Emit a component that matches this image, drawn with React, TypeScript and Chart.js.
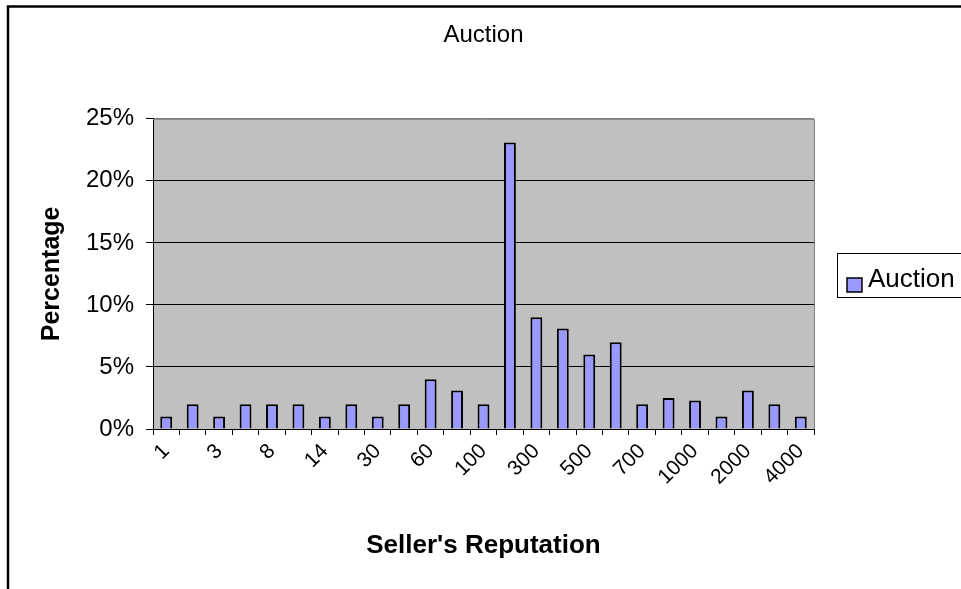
import React, { useEffect, useRef } from "react";
import { Chart, registerables } from "chart.js";

Chart.register(...registerables);

const FONT = "'Liberation Sans', Arial, Helvetica, sans-serif";

const chartTitle = "Auction";
const seriesName = "Auction";
const xAxisTitle = "Seller's Reputation";
const yAxisTitle = "Percentage";

// Labels shown under every other category
const tickLabels = ["1", "3", "8", "14", "30", "60", "100", "300", "500", "700", "1000", "2000", "4000"];

// Percentage of auctions per seller reputation bucket (25 buckets)
const auctionPct = [1, 2, 1, 2, 2, 2, 1, 2, 1, 2, 4, 3.1, 2, 23.1, 9, 8.1, 6, 7, 2, 2.5, 2.3, 1, 3.1, 2, 1];

const categories = auctionPct.map((_, i) => (i % 2 === 0 ? tickLabels[i / 2] : ""));

const yTicks = [0, 5, 10, 15, 20, 25];

const BAR_FILL = "#9999FF";
const PLOT_BG = "#C0C0C0";

const backgroundPlugin = {
  id: "plotBackground",
  beforeDraw(chart: any) {
    const { ctx, chartArea } = chart;
    ctx.save();
    ctx.fillStyle = "#FFFFFF";
    ctx.fillRect(0, 0, chart.width, chart.height);
    ctx.fillStyle = PLOT_BG;
    ctx.fillRect(chartArea.left, chartArea.top, chartArea.right - chartArea.left, chartArea.bottom - chartArea.top);
    ctx.restore();
  },
  beforeDatasetsDraw(chart: any) {
    const { ctx, chartArea } = chart;
    ctx.save();
    ctx.strokeStyle = "#808080";
    ctx.lineWidth = 1;
    ctx.beginPath();
    ctx.moveTo(chartArea.left, chartArea.top + 0.5);
    ctx.lineTo(chartArea.right + 0.5, chartArea.top + 0.5);
    ctx.lineTo(chartArea.right + 0.5, chartArea.bottom);
    ctx.stroke();
    ctx.restore();
  },
};

const framePlugin = {
  id: "outerFrame",
  afterDraw(chart: any) {
    const { ctx } = chart;
    ctx.save();
    ctx.strokeStyle = "#000000";
    ctx.lineWidth = 2.5;
    ctx.beginPath();
    ctx.moveTo(8, chart.height + 5);
    ctx.lineTo(8, 6.5);
    ctx.lineTo(chart.width + 5, 6.5);
    ctx.stroke();
    ctx.restore();
  },
};

const legendPlugin = {
  id: "sideLegend",
  afterDraw(chart: any) {
    const { ctx } = chart;
    const ds = chart.data.datasets[0];
    const x = 837;
    const y = 253;
    const h = 44;
    ctx.save();
    ctx.fillStyle = "#FFFFFF";
    ctx.fillRect(x, y, 200, h);
    ctx.strokeStyle = "#000000";
    ctx.lineWidth = 1;
    ctx.strokeRect(x + 0.5, y + 0.5, 200, h);
    ctx.fillStyle = ds.backgroundColor;
    ctx.fillRect(x + 10, y + 25, 15, 14);
    ctx.strokeStyle = "#000000";
    ctx.lineWidth = 1.5;
    ctx.strokeRect(x + 10, y + 25, 15, 14);
    ctx.fillStyle = "#000000";
    ctx.font = `26px ${FONT}`;
    ctx.textBaseline = "alphabetic";
    ctx.textAlign = "left";
    ctx.fillText(ds.label, x + 31, y + 34);
    ctx.restore();
  },
};

export default function App() {
  const canvasRef = useRef<HTMLCanvasElement | null>(null);

  useEffect(() => {
    const canvas = canvasRef.current;
    if (!canvas) return;
    const chart = new Chart(canvas, {
      type: "bar",
      data: {
        labels: categories,
        datasets: [
          {
            label: seriesName,
            data: auctionPct,
            backgroundColor: BAR_FILL,
            borderColor: "#000000",
            borderWidth: 2,
            barPercentage: 0.45,
            categoryPercentage: 1,
          },
        ],
      },
      options: {
        animation: false,
        responsive: false,
        maintainAspectRatio: false,
        devicePixelRatio: 1,
        layout: { padding: { left: 6, top: 6, right: 147, bottom: 0 } },
        plugins: {
          legend: { display: false },
          tooltip: { enabled: false },
          title: {
            display: true,
            text: chartTitle,
            fullSize: false,
            color: "#000000",
            font: { family: FONT, size: 24, weight: "normal" },
            padding: { top: 15, bottom: 69 },
          },
        },
        scales: {
          x: {
            offset: true,
            grid: {
              offset: true,
              drawOnChartArea: false,
              drawTicks: true,
              tickLength: 6,
              tickColor: "#000000",
              tickWidth: 1,
            },
            border: { display: true, color: "#000000", width: 1 },
            ticks: {
              autoSkip: false,
              minRotation: 45,
              maxRotation: 45,
              color: "#000000",
              font: { family: FONT, size: 21 },
              padding: 4,
            },
            title: {
              display: true,
              text: xAxisTitle,
              color: "#000000",
              font: { family: FONT, size: 26, weight: "bold" },
              padding: { top: 0, bottom: 28 },
            },
            afterFit: (s: any) => {
              s.height = 160;
            },
          },
          y: {
            min: 0,
            max: 25,
            afterBuildTicks: (s: any) => {
              s.ticks = yTicks.map((v) => ({ value: v }));
            },
            ticks: {
              color: "#000000",
              font: { family: FONT, size: 24 },
              padding: 12,
              callback: (v: any) => `${v}%`,
            },
            grid: {
              color: (c: any) => (c.tick && c.tick.value === 25 ? "#808080" : c.tick && c.tick.value === 0 ? "rgba(0,0,0,0)" : "#000000"),
              lineWidth: 1,
              drawTicks: true,
              tickLength: 7,
              tickColor: "#000000",
            },
            border: { display: true, color: "#000000", width: 1 },
            title: {
              display: true,
              text: yAxisTitle,
              color: "#000000",
              font: { family: FONT, size: 25, weight: "bold" },
              padding: { top: 31, bottom: 0 },
            },
            afterFit: (s: any) => {
              s.width = 147;
            },
          },
        },
      },
      plugins: [backgroundPlugin, framePlugin, legendPlugin],
    });
    return () => chart.destroy();
  }, []);

  return (
    <div style={{ position: "fixed", left: 0, top: 0, width: 961, height: 589, overflow: "hidden" }}>
      <canvas ref={canvasRef} width={961} height={589} style={{ display: "block", width: 961, height: 589 }} />
    </div>
  );
}
